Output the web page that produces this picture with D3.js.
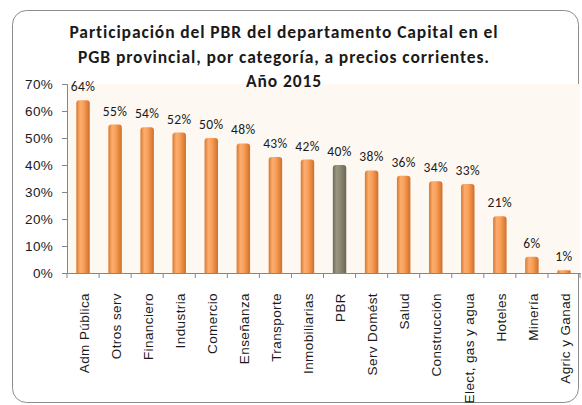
<!DOCTYPE html>
<html><head><meta charset="utf-8">
<script src="https://cdn.jsdelivr.net/npm/d3@7"></script>
<style>
body{margin:0;background:#fff;}
svg{display:block;font-family:Carlito,Lato,"Open Sans",sans-serif;}
</style></head>
<body>
<svg id="chart" width="582" height="405"></svg>
<script>
const categories = ["Adm Pública","Otros serv","Financiero","Industria","Comercio","Enseñanza","Transporte","Inmobiliarias","PBR","Serv Domést","Salud","Construcción","Elect, gas y agua","Hoteles","Minería","Agric y Ganad"];
const values = [64,55,54,52,50,48,43,42,40,38,36,34,33,21,6,1];
const highlight = ["PBR"];
const yTicks = [0,10,20,30,40,50,60,70];
const titleLines = ["Participación del PBR del departamento Capital en el","PGB provincial, por categoría, a precios corrientes.","Año 2015"];

const svg = d3.select("#chart");
const m = {left:67, right:580, top:84, bottom:273};

const defs = svg.append("defs");
function grad(id, stops){
  const g = defs.append("linearGradient").attr("id",id).attr("x1","0").attr("x2","1").attr("y1","0").attr("y2","0");
  stops.forEach(s=>g.append("stop").attr("offset",s[0]).attr("stop-color",s[1]));
}
grad("og",[["0%","#d8782f"],["28%","#fcad6e"],["55%","#f99f58"],["100%","#cf6f28"]]);
grad("gg",[["0%","#6f6b58"],["28%","#9a957f"],["55%","#8d8873"],["100%","#6a6653"]]);

// frame
svg.append("rect").attr("x",12.5).attr("y",10.5).attr("width",566).attr("height",392).attr("rx",14)
  .attr("fill","#fff").attr("stroke","#8c8c8c").attr("stroke-width",1);

// plot area
svg.append("rect").attr("x",m.left).attr("y",m.top).attr("width",m.right-m.left).attr("height",m.bottom-m.top)
  .attr("fill","#fdf8f2");

const x = d3.scaleBand().domain(categories).range([m.left,m.right]).paddingInner(0.58).paddingOuter(0.29);
const y = d3.scaleLinear().domain([0,70]).range([m.bottom,m.top]);

// title
const t = svg.append("text").attr("text-anchor","middle").attr("font-weight","bold").attr("font-size",17.5)
  .attr("letter-spacing",0.9).attr("fill","#1a1a1a");
titleLines.forEach((l,i)=>t.append("tspan").attr("x",284).attr("y",38+i*24.5).text(l));

// bars
const bars = svg.append("g");
categories.forEach((c,i)=>{
  const v = values[i];
  const bx = x(c), bw = x.bandwidth(), by = y(v), bh = y(0)-y(v);
  const r = Math.min(3, bh/2);
  bars.append("path")
    .attr("d",`M${bx},${y(0)} V${by+r} Q${bx},${by} ${bx+r},${by} H${bx+bw-r} Q${bx+bw},${by} ${bx+bw},${by+r} V${y(0)} Z`)
    .attr("fill", highlight.includes(c) ? "url(#gg)" : "url(#og)");
  svg.append("text").attr("x",bx+bw/2).attr("y",by-9).attr("text-anchor","middle")
    .attr("font-size",13.5).attr("letter-spacing",0.4).attr("fill","#1a1a1a").text(v+"%");
});

// y axis
const ya = svg.append("g").attr("transform",`translate(${m.left},0)`)
  .call(d3.axisLeft(y).tickValues(yTicks).tickFormat(d=>d+"%").tickSize(5).tickPadding(9));
ya.select(".domain").attr("stroke","#868686");
ya.selectAll(".tick line").attr("stroke","#868686");
ya.selectAll("text").attr("font-size",13.5).attr("letter-spacing",0.3).attr("fill","#1a1a1a").attr("font-family",null);

// x axis
const xa = svg.append("g").attr("transform",`translate(0,${m.bottom})`)
  .call(d3.axisBottom(x).tickSize(0).tickSizeOuter(0));
xa.select(".domain").attr("stroke","#868686");
xa.selectAll(".tick text").attr("font-size",13.5).attr("letter-spacing",0.4).attr("fill","#1a1a1a").attr("font-family",null)
  .attr("text-anchor","end").attr("transform","rotate(-90)").attr("x",-20).attr("y",1).attr("dy","0.35em");
const bounds = d3.range(categories.length+1).map(i=>m.left+i*(m.right-m.left)/categories.length);
xa.selectAll(".bnd").data(bounds).enter().append("line").attr("class","bnd")
  .attr("x1",d=>d).attr("x2",d=>d).attr("y1",0).attr("y2",5).attr("stroke","#868686");
</script>
</body></html>
